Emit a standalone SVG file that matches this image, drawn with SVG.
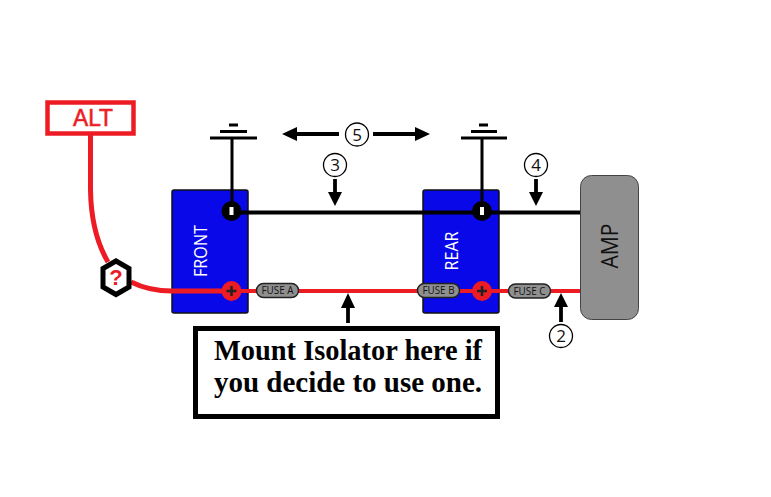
<svg xmlns="http://www.w3.org/2000/svg" width="771" height="497" viewBox="0 0 771 497">
<style>
.blk{fill:none;stroke:#000;stroke-width:3.8}
.red{fill:none;stroke:#ed1c24;stroke-width:3.8}
.thick{fill:none;stroke:#ed1c24;stroke-width:5}
.gnd{fill:none;stroke:#000;stroke-width:3}
.bat{fill:#0808e8;stroke:#111;stroke-width:1.500}
.batl{font:19px "Open Sans",sans-serif;fill:#fff;text-anchor:middle}
.pill{fill:#8f8f8f;stroke:#222;stroke-width:1.500}
.fuse{font:10px "Open Sans",sans-serif;fill:#111;text-anchor:middle}
.num{fill:#fff;stroke:#000;stroke-width:1.300}
.numt{font:17px "Open Sans",sans-serif;fill:#111;text-anchor:middle}
.note{font:bold 29px "Liberation Serif",serif;fill:#000;text-anchor:middle}
.head{fill:#000}
</style>
<rect width="771" height="497" fill="#fff"/>
<g id="front">
<rect class="bat" x="172" y="190" width="76" height="123" rx="2"/>
<text class="batl" transform="translate(207,251) rotate(-90)" textLength="52" lengthAdjust="spacingAndGlyphs">FRONT</text>
</g>
<g id="rear">
<rect class="bat" x="423" y="190" width="76" height="123" rx="2"/>
<text class="batl" transform="translate(457.500,251) rotate(-90)" textLength="39" lengthAdjust="spacingAndGlyphs">REAR</text>
</g>
<g id="amp">
<rect x="580.500" y="175.500" width="58" height="144" rx="11" fill="#8f8f8f" stroke="#444" stroke-width="1"/>
<text transform="translate(618,246) rotate(-90)" text-anchor="middle" font-family="Open Sans, sans-serif" font-size="23" fill="#111" textLength="45" lengthAdjust="spacingAndGlyphs">AMP</text>
</g>
<g id="connectors">
<path class="blk" d="M232 212.500H580"/>
<path class="gnd" d="M232 138V212M482 138V212"/>
<path class="red" d="M232 291H580"/>
<path class="thick" d="M90.500 135V190C91 222 98 245 108 262"/>
<path class="thick" d="M131 282C143 288 155 291 172 291H232"/>
</g>
<g id="ground-front">
<path class="gnd" d="M210 138H257M220 131.500H247M229 125H238"/>
</g>
<g id="ground-rear">
<path class="gnd" d="M461 138H507M471 131.500H497M479 125H488"/>
</g>
<g id="terminal-front-neg">
<circle cx="231.500" cy="211" r="10" fill="#000"/><rect x="229.500" y="207" width="4" height="8" fill="#fff"/>
</g>
<g id="terminal-rear-neg">
<circle cx="482" cy="211" r="10" fill="#000"/><rect x="480" y="207" width="4" height="8" fill="#fff"/>
</g>
<g id="terminal-front-pos">
<circle cx="231.500" cy="291" r="10" fill="#ed1c24"/><path d="M226.500 291H236.500M231.500 286V296" stroke="#222" stroke-width="2.500"/>
</g>
<g id="terminal-rear-pos">
<circle cx="482" cy="291" r="10" fill="#ed1c24"/><path d="M477 291H487M482 286V296" stroke="#222" stroke-width="2.500"/>
</g>
<g id="fuse-a">
<rect class="pill" x="256.500" y="283.500" width="42" height="14" rx="7"/>
<text class="fuse" x="277.500" y="294" textLength="32" lengthAdjust="spacingAndGlyphs">FUSE A</text>
</g>
<g id="fuse-b">
<rect class="pill" x="417.500" y="283.500" width="42" height="14" rx="7"/>
<text class="fuse" x="438.500" y="294" textLength="32" lengthAdjust="spacingAndGlyphs">FUSE B</text>
</g>
<g id="fuse-c">
<rect class="pill" x="508.500" y="284" width="42" height="14" rx="7"/>
<text class="fuse" x="529.500" y="294.500" textLength="32" lengthAdjust="spacingAndGlyphs">FUSE C</text>
</g>
<g id="alt">
<rect x="47.500" y="102.500" width="86" height="31" fill="#fff" stroke="#ed1c24" stroke-width="4.500"/>
<text x="93" y="126" text-anchor="middle" font-family="Liberation Sans, sans-serif" font-size="24" fill="#ed1c24" stroke="#ed1c24" stroke-width="0.600" textLength="40" lengthAdjust="spacingAndGlyphs">ALT</text>
</g>
<g id="unknown">
<polygon points="116,261 129,268.500 129,287 116,294.500 103,287 103,268.500" fill="#fff" stroke="#000" stroke-width="5"/>
<text x="116" y="285" text-anchor="middle" font-family="Liberation Sans, sans-serif" font-size="22" font-weight="bold" fill="#ed1c24">?</text>
</g>
<g id="label-5">
<path class="blk" d="M295 134H339M373 134H417"/>
<path class="head" d="M282 134L297 127V141ZM430 134L415 127V141Z"/>
<circle class="num" cx="357" cy="134.500" r="11.500"/>
<text class="numt" x="357" y="140.500">5</text>
</g>
<g id="label-3">
<path class="blk" d="M335 179V194"/>
<path class="head" d="M335 206L328 192H342Z"/>
<circle class="num" cx="335" cy="165" r="11.500"/>
<text class="numt" x="335" y="171">3</text>
</g>
<g id="label-4">
<path class="blk" d="M536 179V194"/>
<path class="head" d="M536 206L529 192H543Z"/>
<circle class="num" cx="536" cy="165" r="11.500"/>
<text class="numt" x="536" y="171">4</text>
</g>
<g id="label-2">
<path class="blk" d="M561 322V305"/>
<path class="head" d="M561 293L554 307H568Z"/>
<circle class="num" cx="561" cy="336" r="11.500"/>
<text class="numt" x="561" y="342">2</text>
</g>
<g id="isolator">
<path class="blk" d="M348 323V305"/>
<path class="head" d="M348 293L341 308H355Z"/>
<rect x="195.500" y="328.500" width="302" height="88" fill="#fff" stroke="#000" stroke-width="5"/>
<text class="note" x="348" y="360" textLength="268" lengthAdjust="spacingAndGlyphs">Mount Isolator here if</text>
<text class="note" x="348" y="392" textLength="268" lengthAdjust="spacingAndGlyphs">you decide to use one.</text>
</g>
</svg>
